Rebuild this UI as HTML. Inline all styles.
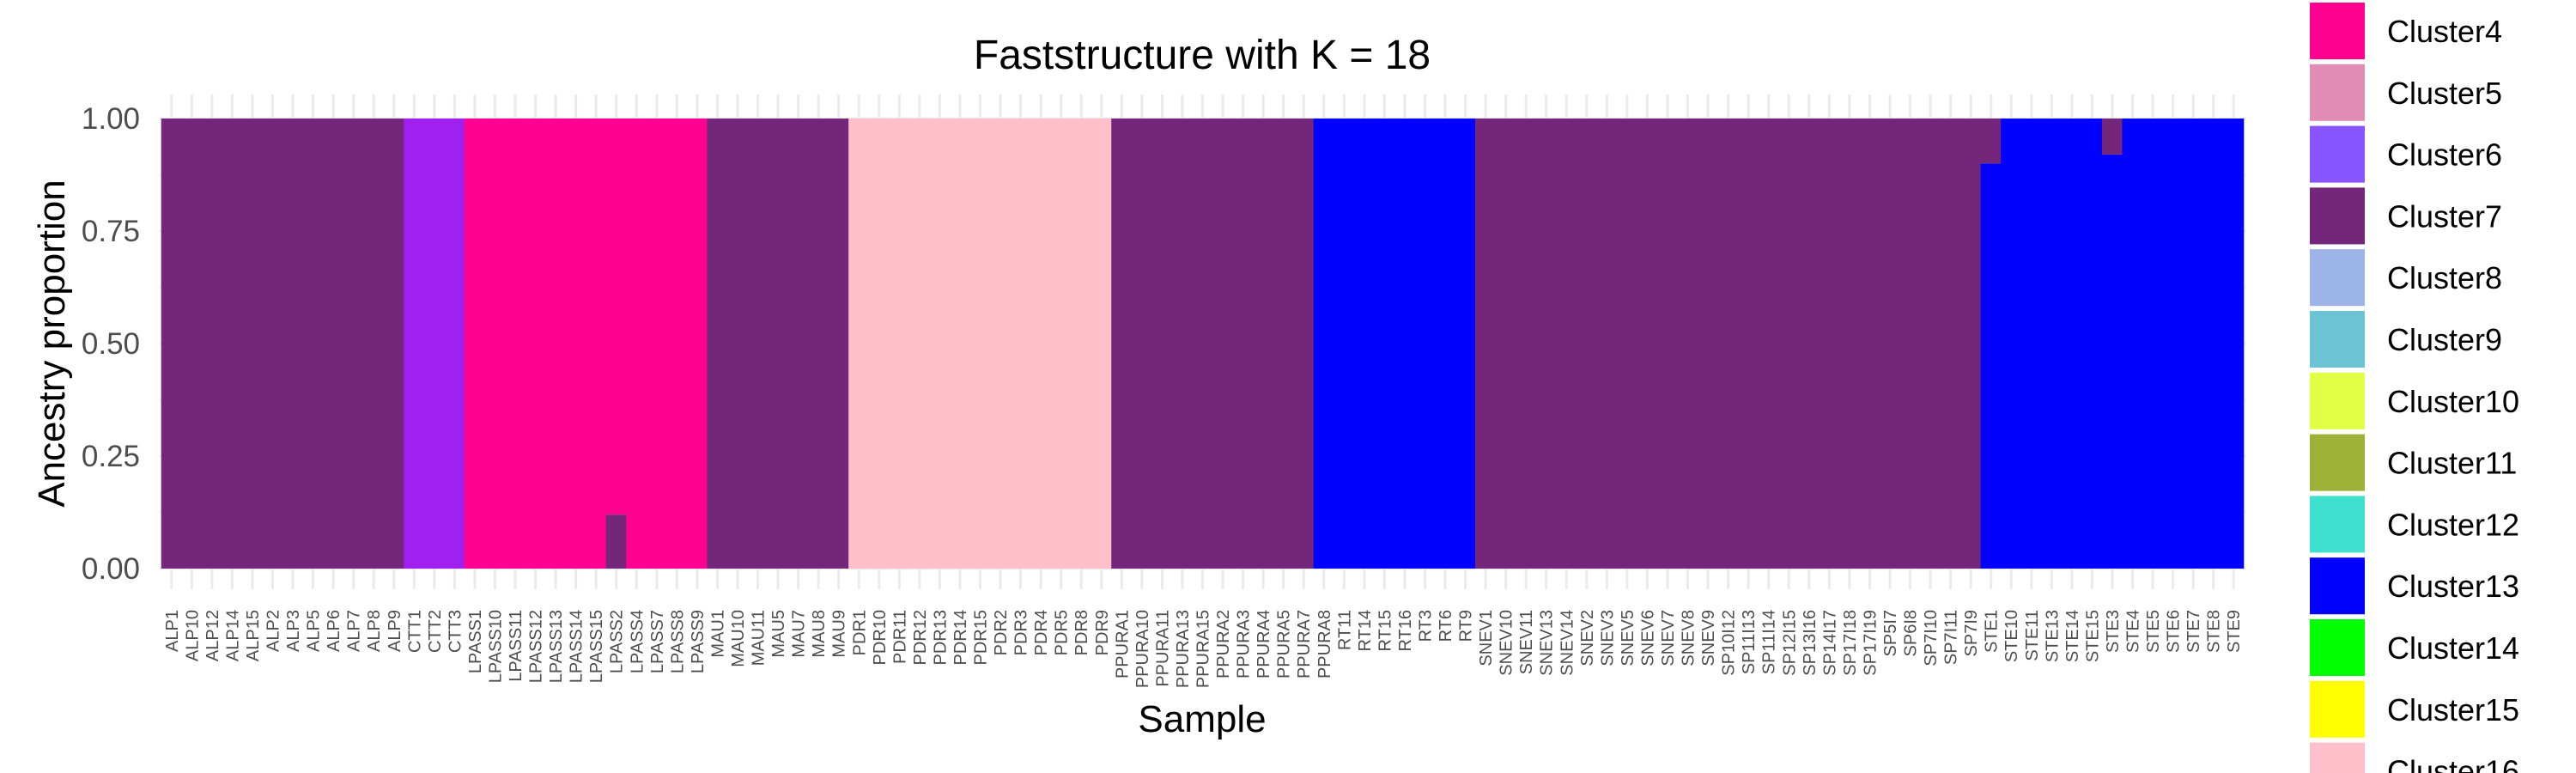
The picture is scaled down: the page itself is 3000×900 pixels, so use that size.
<!DOCTYPE html>
<html><head><meta charset="utf-8"><style>
html,body{margin:0;padding:0;background:#fff;}
svg{display:block;font-family:"Liberation Sans",Arial,sans-serif;}
</style></head><body>
<svg id="chart" width="3000" height="900" viewBox="0 0 3000 900" xmlns="http://www.w3.org/2000/svg">
<rect width="3000" height="900" fill="#fff"/>
<g id="grid"></g>
<g id="bars"></g>
<g id="yaxis"></g>
<g id="xaxis"></g>
<g id="legend"></g>
<text x="1400" y="80" font-size="48" text-anchor="middle" fill="#000">Faststructure with K = 18</text>
<text x="1400" y="852" font-size="44" text-anchor="middle" fill="#000">Sample</text>
<text transform="translate(75,400) rotate(-90)" font-size="44" text-anchor="middle" fill="#000">Ancestry proportion</text>
</svg>
<script>
const samples = ["ALP1","ALP10","ALP12","ALP14","ALP15","ALP2","ALP3","ALP5","ALP6","ALP7","ALP8","ALP9",
"CTT1","CTT2","CTT3",
"LPASS1","LPASS10","LPASS11","LPASS12","LPASS13","LPASS14","LPASS15","LPASS2","LPASS4","LPASS7","LPASS8","LPASS9",
"MAU1","MAU10","MAU11","MAU5","MAU7","MAU8","MAU9",
"PDR1","PDR10","PDR11","PDR12","PDR13","PDR14","PDR15","PDR2","PDR3","PDR4","PDR5","PDR8","PDR9",
"PPURA1","PPURA10","PPURA11","PPURA13","PPURA15","PPURA2","PPURA3","PPURA4","PPURA5","PPURA7","PPURA8",
"RT11","RT14","RT15","RT16","RT3","RT6","RT9",
"SNEV1","SNEV10","SNEV11","SNEV13","SNEV14","SNEV2","SNEV3","SNEV5","SNEV6","SNEV7","SNEV8","SNEV9",
"SP10I12","SP11I13","SP11I14","SP12I15","SP13I16","SP14I17","SP17I18","SP17I19","SP5I7","SP6I8","SP7I10","SP7I11","SP7I9",
"STE1","STE10","STE11","STE13","STE14","STE15","STE3","STE4","STE5","STE6","STE7","STE8","STE9"];
// main cluster per sample
const mainCluster = [7,7,7,7,7,7,7,7,7,7,7,7, 3,3,3, 4,4,4,4,4,4,4,4,4,4,4,4, 7,7,7,7,7,7,7,
16,16,16,16,16,16,16,16,16,16,16,16,16, 7,7,7,7,7,7,7,7,7,7,13, 13,13,13,13,13,13,13,
7,7,7,7,7,7,7,7,7,7,7,7, 7,7,7,7,7,7,7,7,7,7,7,7,7, 13,13,13,13,13,13,13,13,13,13,13,13,13];
// admixture: sample name, minor cluster, minor proportion, position (bottom/top)
const admixSample = ["LPASS2","STE1","STE3"];
const admixCluster = [7,7,7];
const admixProp = [0.12,0.10,0.08];
const admixBottom = [true,false,false];
const yTicks = [0,0.25,0.5,0.75,1];
const yTickLabels = ["0.00","0.25","0.50","0.75","1.00"];
const legendClusters = [4,5,6,7,8,9,10,11,12,13,14,15,16];
const clusterColors = {3:"#a020f0",4:"#ff0090",5:"#e28bb5",6:"#8855ff",7:"#74277a",8:"#9db4e8",9:"#6bc3d4",10:"#e0ff45",11:"#9db137",12:"#40e0d0",13:"#0000ff",14:"#00ff00",15:"#ffff00",16:"#ffc0cb"};

const NS="http://www.w3.org/2000/svg";
const X0=188, X1=2613, Y0=662, Y1=138;
const step=(X1-X0)/samples.length;
function xs(i){return X0+i*step;}
function ys(v){return Y0-(Y1-Y0)*-v;}
function yv(v){return Y0+(Y1-Y0)*v;}
function mk(tag,attrs,parent){const e=document.createElementNS(NS,tag);for(const k in attrs)e.setAttribute(k,attrs[k]);parent.appendChild(e);return e;}

const grid=document.getElementById('grid');
// minor/major horizontal grid
[0,0.125,0.25,0.375,0.5,0.625,0.75,0.875,1].forEach(v=>{
  const l=mk('line',{x1:185.6,x2:2615.4,y1:yv(v),y2:yv(v),stroke:'#ebebeb','stroke-width':v*4%1===0?2.5:1.5},grid);
  
  
});
samples.forEach((s,i)=>{
  const l=mk('line',{x1:xs(i)+step/2,x2:xs(i)+step/2,y1:110,y2:686,stroke:'#ebebeb','stroke-width':3},grid);
  
  
});

const bars=document.getElementById('bars');
samples.forEach((s,i)=>{
  const a=admixSample.indexOf(s);
  let segs=[[mainCluster[i],1]];
  if(a>=0){
    const minor=[admixCluster[a],admixProp[a]], major=[mainCluster[i],1-admixProp[a]];
    segs=admixBottom[a]?[minor,major]:[major,minor];
  }
  let cum=0;
  segs.forEach(([c,p])=>{
    const r=mk('rect',{x:xs(i)-0.3,y:yv(cum+p),width:step+0.6,height:yv(cum)-yv(cum+p),fill:clusterColors[c]},bars);
    
    
    cum+=p;
  });
});

const yaxis=document.getElementById('yaxis');
yTicks.forEach((v,k)=>{
  const t=mk('text',{x:163,y:yv(v)+12,'font-size':35,'text-anchor':'end',fill:'#4d4d4d'},yaxis);
  t.textContent=yTickLabels[k];
  
  
});

const xaxis=document.getElementById('xaxis');
samples.forEach((s,i)=>{
  const cx=xs(i)+step/2+7;
  const t=mk('text',{transform:`translate(${cx},710) rotate(-90)`,'font-size':20,'text-anchor':'end',fill:'#4d4d4d'},xaxis);
  t.textContent=s;
  
  
});

const legend=document.getElementById('legend');
legendClusters.forEach((c,k)=>{
  const top=3+k*71.8;
  const r=mk('rect',{x:2690,y:top,width:64,height:66,fill:clusterColors[c]},legend);
  
  
  const t=mk('text',{x:2780,y:top+46,'font-size':36,fill:'#000'},legend);
  t.textContent='Cluster'+c;
  
  
});
</script>
</body></html>
